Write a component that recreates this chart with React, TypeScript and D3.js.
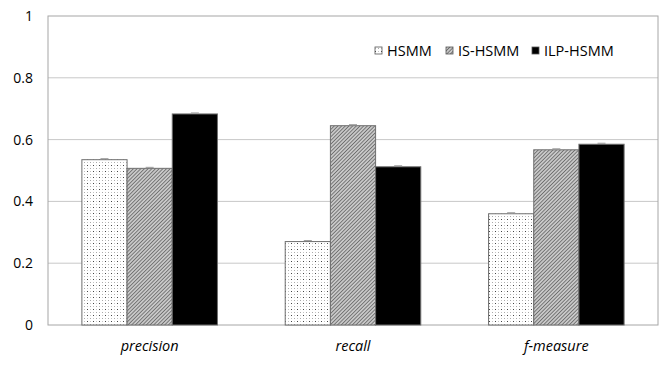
import React from "react";
import * as d3 from "d3";

const categories = ["precision", "recall", "f-measure"];
const seriesNames = ["HSMM", "IS-HSMM", "ILP-HSMM"];
const hsmm = [0.535, 0.27, 0.36];
const isHsmm = [0.507, 0.645, 0.567];
const ilpHsmm = [0.683, 0.512, 0.585];
const yTicks = [0, 0.2, 0.4, 0.6, 0.8, 1];

const W = 664;
const H = 368;
const M = { left: 48, right: 6, top: 16, bottom: 43 };

export default function App() {
  const values = [hsmm, isHsmm, ilpHsmm];
  const fills = ["url(#dots)", "url(#hatch)", "#000"];

  const x = d3.scaleBand().domain(categories).range([M.left, W - M.right]).paddingInner(0).paddingOuter(0);
  // gap width 150%, like the excel original
  const barW = x.bandwidth() / 4.5;
  const y = d3.scaleLinear().domain([0, 1]).range([H - M.bottom, M.top]);
  const font = "'Open Sans', 'Noto Sans', sans-serif";

  return (
    <svg width={W} height={H} style={{ position: "absolute", left: 0, top: 0, background: "#fff" }}>
      <defs>
        <pattern id="dots" width="6" height="6" patternUnits="userSpaceOnUse">
          <rect width="6" height="6" fill="#fff" />
          <rect x="0" y="0" width="1" height="1" fill="#aaa" />
          <rect x="3" y="3" width="1" height="1" fill="#444" />
          <rect x="3" y="0" width="1" height="1" fill="#c4c4c4" />
          <rect x="0" y="3" width="1" height="1" fill="#c4c4c4" />
        </pattern>
        <pattern id="hatch" width="2.6" height="2.6" patternUnits="userSpaceOnUse" patternTransform="rotate(45)">
          <rect width="2.6" height="2.6" fill="#c8c8c8" />
          <line x1="0" y1="0" x2="0" y2="2.6" stroke="#3a3a3a" strokeWidth="1.1" />
        </pattern>
      </defs>

      {yTicks.filter((t) => t > 0 && t < 1).map((t) => (
        <line key={t} x1={M.left} x2={W - M.right} y1={y(t)} y2={y(t)} stroke="#c8c8c8" strokeWidth={1} />
      ))}
      <rect x={M.left} y={y(1)} width={W - M.right - M.left} height={y(0) - y(1)} fill="none" stroke="#a6a6a6" strokeWidth={1} />

      {yTicks.map((t) => (
        <text key={t} x={33} y={y(t)} dy="0.35em" textAnchor="end" fontFamily={font} fontSize={14} fill="#000">
          {d3.format("~g")(t)}
        </text>
      ))}

      {categories.map((c, ci) => {
        const start = (x(c) as number) + (x.bandwidth() - 3 * barW) / 2;
        return (
          <g key={c}>
            {values.map((vals, si) => (
              <g key={si}>
                <rect x={start + si * barW} y={y(vals[ci])} width={barW} height={y(0) - y(vals[ci])}
                  fill={fills[si]} stroke="#6f6f6f" strokeWidth={1} />
                <line x1={start + si * barW + barW / 2 - 4} x2={start + si * barW + barW / 2 + 4}
                  y1={y(vals[ci]) - 1} y2={y(vals[ci]) - 1} stroke="#999" strokeWidth={1} />
              </g>
            ))}
            <text x={(x(c) as number) + x.bandwidth() / 2} y={351} textAnchor="middle" fontFamily={font}
              fontStyle="italic" fontSize={14.5} fill="#000">{c}</text>
          </g>
        );
      })}

      {seriesNames.map((s, i) => {
        const lx = [375, 446, 532][i];
        return (
          <g key={s}>
            <rect x={lx} y={47} width={7} height={7} fill={fills[i]} stroke="#555" strokeWidth={0.8} />
            <text x={lx + 12} y={51} dy="0.35em" fontFamily={font} fontSize={14.5} fill="#000">{s}</text>
          </g>
        );
      })}
    </svg>
  );
}
